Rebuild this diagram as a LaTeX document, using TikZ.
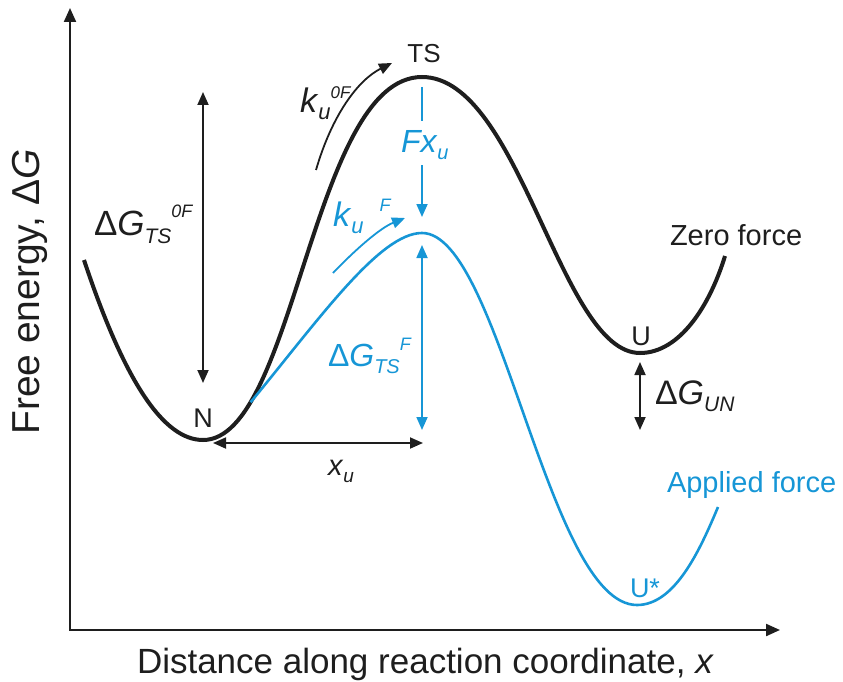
\documentclass[tikz,border=0pt]{standalone}
\usepackage{fontspec}
\setmainfont{Liberation Sans}
\usetikzlibrary{arrows.meta}
\definecolor{fblue}{RGB}{22,150,214}
\definecolor{ink}{RGB}{30,30,30}
\begin{document}
\begin{tikzpicture}[x=1pt,y=-1pt,
  every node/.style={inner sep=0pt, outer sep=0pt},
  blk/.style={line width=4pt, ink},
  blu/.style={line width=2.6pt, fblue},
  arr/.style={line width=1.8pt, -{Triangle[length=13pt,width=11pt]}},
  darr/.style={line width=1.8pt, {Triangle[length=13pt,width=11pt]}-{Triangle[length=13pt,width=11pt]}},
  axis/.style={line width=2.2pt, ink, {Triangle[length=14pt,width=12pt]}-{Triangle[length=14pt,width=12pt]}},
  lab/.style={text=ink},
  blab/.style={text=fblue}
]
\useasboundingbox (0,0) rectangle (843,682);
% axes
\coordinate (Ytop) at (70,8);
\coordinate (O) at (70,630);
\coordinate (Xend) at (780,630);
\draw[axis] (Ytop) -- (O) -- (Xend);
% zero force curve
\coordinate (A0) at (84,260);
\coordinate (N) at (203,440);
\coordinate (TS) at (422,77);
\coordinate (U) at (640,353);
\coordinate (A1) at (725,256);
\draw[blk] (A0) .. controls (124,380) and (163,440) .. (N)
  .. controls (295,440) and (312,77) .. (TS)
  .. controls (520,77) and (560,353) .. (U)
  .. controls (680,353) and (710,305) .. (A1);
% applied force curve
\coordinate (Br) at (250.6,402.3);
\coordinate (TSF) at (422,233);
\coordinate (Us) at (637,605);
\coordinate (B1) at (718,507);
\draw[blu] (Br) .. controls (320,318) and (380,233) .. (TSF)
  .. controls (500,233) and (548,605) .. (Us)
  .. controls (675,605) and (700,550) .. (B1);
% Delta G_TS^0F arrow
\coordinate (g0t) at (203,92);
\coordinate (g0b) at (203,383);
\draw[darr, ink] (g0t) -- (g0b);
% k arcs
\coordinate (k0s) at (316,170);
\coordinate (k0e) at (392,63);
\draw[arr, ink] (k0s) .. controls (332,115) and (358,80) .. (k0e);
\coordinate (kFs) at (333,273);
\coordinate (kFe) at (405,218);
\draw[arr, fblue] (kFs) .. controls (355,250) and (380,228) .. (kFe);
% Fx_u
\coordinate (f0) at (422,87);
\coordinate (f1) at (422,121);
\coordinate (f2) at (422,165);
\coordinate (f3) at (422,217);
\draw[line width=1.8pt, fblue] (f0) -- (f1);
\draw[arr, fblue] (f2) -- (f3);
% Delta G_TS^F
\coordinate (gft) at (422,245);
\coordinate (gfb) at (422,430);
\draw[darr, fblue] (gft) -- (gfb);
% x_u
\coordinate (xl) at (213,443);
\coordinate (xr) at (423,443);
\draw[darr, ink] (xl) -- (xr);
% Delta G_UN
\coordinate (ut) at (640,362);
\coordinate (ub) at (640,430);
\draw[darr, ink] (ut) -- (ub);
% labels
\node[lab, anchor=base west, font=\fontsize{35}{35}\selectfont] (lg0) at (94,235)
  {Δ\textit{G}\raisebox{-8pt}{\fontsize{21}{21}\selectfont\itshape TS}\raisebox{18pt}{\fontsize{18}{18}\selectfont\itshape 0F}};
\node[lab, anchor=base west, font=\fontsize{34}{34}\selectfont] (lk0) at (300,113)
  {\textit{k}\raisebox{-7pt}{\fontsize{22}{22}\selectfont\itshape u}\raisebox{14pt}{\fontsize{17}{17}\selectfont\itshape 0F}};
\node[lab, anchor=base, font=\fontsize{26}{26}\selectfont] (lts) at (424,63) {TS};
\node[blab, anchor=base west, font=\fontsize{32}{32}\selectfont] (lfx) at (401,153)
  {\textit{Fx}\raisebox{-7pt}{\fontsize{20}{20}\selectfont\itshape u}};
\node[blab, anchor=base west, font=\fontsize{34}{34}\selectfont] (lkf) at (333,226)
  {\textit{k}\raisebox{-7pt}{\fontsize{22}{22}\selectfont\itshape u}\hspace{16pt}\raisebox{15pt}{\fontsize{18}{18}\selectfont\itshape F}};
\node[blab, anchor=base west, font=\fontsize{32}{32}\selectfont] (lgf) at (328,366)
  {Δ\textit{G}\raisebox{-7pt}{\fontsize{20}{20}\selectfont\itshape TS}\raisebox{16pt}{\fontsize{18}{18}\selectfont\itshape F}};
\node[lab, anchor=base west, font=\fontsize{34}{34}\selectfont] (lgu) at (655,404)
  {Δ\textit{G}\raisebox{-7pt}{\fontsize{21}{21}\selectfont\itshape UN}};
\node[lab, anchor=base west, font=\fontsize{29}{29}\selectfont] (lxu) at (328,475)
  {\textit{x}\raisebox{-7pt}{\fontsize{19}{19}\selectfont\itshape u}};
\node[lab, anchor=base, font=\fontsize{27}{27}\selectfont] (lN) at (203,427) {N};
\node[lab, anchor=base, font=\fontsize{27}{27}\selectfont] (lU) at (641,345) {U};
\node[blab, anchor=base, font=\fontsize{27}{27}\selectfont] (lUs) at (645,597) {U*};
\node[lab, anchor=base west, font=\fontsize{29}{29}\selectfont] (lzf) at (670,245) {Zero force};
\node[blab, anchor=base west, font=\fontsize{29}{29}\selectfont] (laf) at (667,492) {Applied force};
\node[lab, anchor=base west, font=\fontsize{35}{35}\selectfont] (lx) at (137,673)
  {Distance along reaction coordinate, \textit{x}};
\node[lab, rotate=90, anchor=center, font=\fontsize{39}{39}\selectfont] (ly) at (30,292)
  {Free energy, Δ\textit{G}};
\end{tikzpicture}
\end{document}
